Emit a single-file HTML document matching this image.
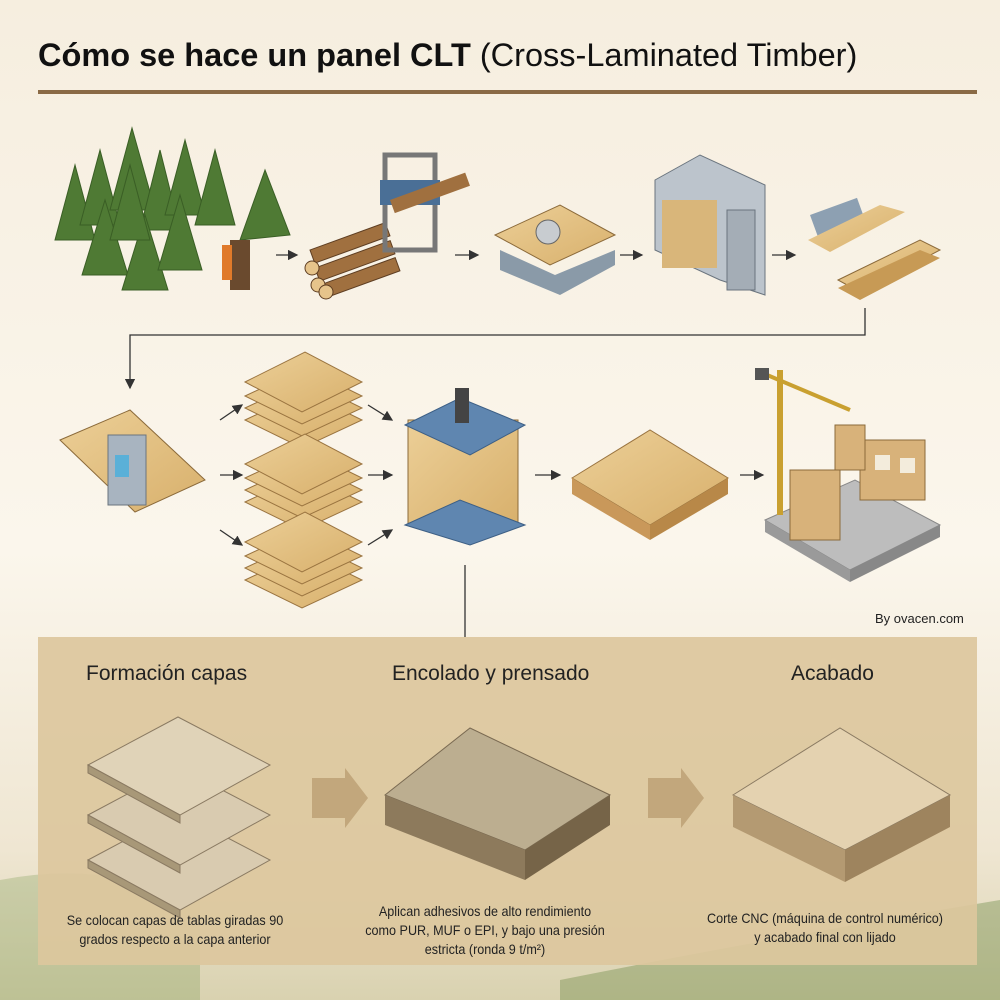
<!DOCTYPE html>
<html><head><meta charset="utf-8"><style>
body{margin:0;width:1000px;height:1000px;overflow:hidden;font-family:"Liberation Sans",sans-serif;}
.bg{position:absolute;left:0;top:0;width:1000px;height:1000px;background:linear-gradient(180deg,#f6eedf 0%,#fbf6ec 55%,#efe6d2 85%,#d9d2b0 100%);}
.t{position:absolute;white-space:nowrap;}
.n{position:absolute;white-space:nowrap;text-align:center;font-size:14px;line-height:19px;color:#222;transform:scaleX(0.9);}
</style></head><body>
<div class="bg"></div>
<svg width="1000" height="1000" style="position:absolute;left:0;top:0">
<defs>
<linearGradient id="wood" x1="0" y1="0" x2="1" y2="1"><stop offset="0" stop-color="#eccf97"/><stop offset="1" stop-color="#d8b06c"/></linearGradient>
<marker id="ah" markerWidth="8" markerHeight="8" refX="7" refY="4" orient="auto"><path d="M0,0 L8,4 L0,8 z" fill="#333"/></marker>
</defs>
<path d="M0,880 Q100,860 200,900 L200,1000 L0,1000z" fill="#7f9a55" opacity="0.3"/>
<path d="M560,980 Q760,940 1000,900 L1000,1000 L560,1000z" fill="#6f8a45" opacity="0.4"/>
<line x1="38" y1="92" x2="977" y2="92" stroke="#8a6a45" stroke-width="4"/>
<g fill="#4f7a34" stroke="#3a5e25" stroke-width="1">
<polygon points="75,165 55,240 95,240"/><polygon points="100,150 80,225 120,225"/><polygon points="132,128 110,210 155,210"/>
<polygon points="160,150 140,230 180,230"/><polygon points="185,140 165,215 205,215"/><polygon points="215,150 195,225 235,225"/>
<polygon points="105,200 82,275 128,275"/><polygon points="145,215 122,290 168,290"/><polygon points="180,195 158,270 202,270"/>
<polygon points="265,170 240,240 290,235"/><polygon points="130,165 110,240 150,240"/>
</g>
<rect x="230" y="240" width="20" height="50" fill="#6a4a2e"/>
<rect x="222" y="245" width="10" height="35" fill="#e07a2a"/>
<g fill="#a0703f" stroke="#5e3e22"><rect x="310" y="250" width="80" height="14" transform="rotate(-20 310 250)"/><rect x="315" y="268" width="80" height="14" transform="rotate(-20 315 268)"/><rect x="320" y="285" width="80" height="14" transform="rotate(-20 320 285)"/>
<circle cx="312" cy="268" r="7" fill="#e6c48b"/><circle cx="318" cy="285" r="7" fill="#e6c48b"/><circle cx="326" cy="292" r="7" fill="#e6c48b"/></g>
<rect x="385" y="155" width="50" height="95" fill="none" stroke="#777" stroke-width="5"/>
<rect x="380" y="180" width="60" height="25" fill="#4a6f96"/>
<rect x="390" y="200" width="80" height="14" fill="#a0703f" transform="rotate(-20 390 200)"/>
<polygon points="495,235 560,205 615,235 550,265" fill="url(#wood)" stroke="#8b6a3a"/>
<polygon points="500,250 555,275 615,250 615,265 560,295 500,270" fill="#8a9aa8"/>
<circle cx="548" cy="232" r="12" fill="#c8ccd0" stroke="#666"/>
<polygon points="655,180 700,155 765,185 765,295 720,280 655,250" fill="#bcc4cc" stroke="#6a747e"/>
<rect x="662" y="200" width="55" height="68" fill="#d9b67a"/>
<rect x="727" y="210" width="28" height="80" fill="#a4adb6" stroke="#6a747e"/>
<rect x="810" y="215" width="50" height="22" fill="#8da0b2" transform="rotate(-20 810 215)"/>
<polygon points="808,240 880,205 905,212 830,252" fill="url(#wood)"/>
<polygon points="838,280 920,240 940,250 860,292" fill="url(#wood)" stroke="#8b6a3a"/>
<polygon points="838,288 920,250 940,258 860,300" fill="#c79a55"/>
<g stroke="#333" stroke-width="1.3" marker-end="url(#ah)" fill="none">
<line x1="276" y1="255" x2="297" y2="255"/><line x1="455" y1="255" x2="478" y2="255"/><line x1="620" y1="255" x2="642" y2="255"/><line x1="772" y1="255" x2="795" y2="255"/>
<polyline points="865,308 865,335 130,335 130,388"/>
<line x1="220" y1="420" x2="242" y2="405"/><line x1="220" y1="475" x2="242" y2="475"/><line x1="220" y1="530" x2="242" y2="545"/>
<line x1="368" y1="405" x2="392" y2="420"/><line x1="368" y1="475" x2="392" y2="475"/><line x1="368" y1="545" x2="392" y2="530"/>
<line x1="535" y1="475" x2="560" y2="475"/><line x1="740" y1="475" x2="763" y2="475"/>
</g>
<line x1="465" y1="565" x2="465" y2="637" stroke="#333" stroke-width="1.3"/>
<polygon points="60,440 130,410 205,480 135,512" fill="url(#wood)" stroke="#8b6a3a"/>
<rect x="108" y="435" width="38" height="70" fill="#a8b4c0" stroke="#6a747e"/>
<rect x="115" y="455" width="14" height="22" fill="#5ab0d8"/>
<g stroke="#9a7440" fill="url(#wood)">
<g id="st"><polygon points="245,420 305,392 362,420 302,448"/><polygon points="245,408 305,380 362,408 302,436"/><polygon points="245,396 305,368 362,396 302,424"/><polygon points="245,382 305,352 362,382 302,412"/></g>
<use href="#st" y="82"/><use href="#st" y="160"/>
</g>
<rect x="408" y="420" width="110" height="105" fill="url(#wood)" stroke="#8b6a3a"/>
<polygon points="405,425 460,398 525,425 470,455" fill="#5f86b0" stroke="#3d5f85"/>
<polygon points="405,525 460,500 525,525 470,545" fill="#5f86b0" stroke="#3d5f85"/>
<rect x="455" y="388" width="14" height="35" fill="#444"/>
<polygon points="572,478 650,430 728,478 650,525" fill="url(#wood)" stroke="#9a7440"/>
<polygon points="572,478 650,525 650,540 572,494" fill="#c9985a"/><polygon points="650,525 728,478 728,494 650,540" fill="#b88848"/>
<polygon points="765,520 855,480 940,525 850,570" fill="#bdbdbd" stroke="#888"/>
<polygon points="765,520 850,570 850,582 765,532" fill="#9a9a9a"/><polygon points="850,570 940,525 940,537 850,582" fill="#888"/>
<rect x="790" y="470" width="50" height="70" fill="#d8b27a" stroke="#8b6a3a"/>
<rect x="860" y="440" width="65" height="60" fill="#d8b27a" stroke="#8b6a3a"/>
<rect x="835" y="425" width="30" height="45" fill="#d8b27a" stroke="#8b6a3a"/>
<rect x="875" y="455" width="15" height="15" fill="#f3ecdc"/><rect x="900" y="458" width="15" height="15" fill="#f3ecdc"/>
<line x1="780" y1="370" x2="780" y2="515" stroke="#c9a030" stroke-width="6"/>
<line x1="760" y1="372" x2="850" y2="410" stroke="#c9a030" stroke-width="4"/>
<rect x="755" y="368" width="14" height="12" fill="#555"/>
<rect x="38" y="637" width="939" height="328" fill="#dcc79d" opacity="0.92"/>
<g stroke="#8a7a62" fill="#d9cbb0">
<polygon points="88,860 178,812 270,860 180,910"/><polygon points="88,860 180,910 180,918 88,868" fill="#a89878"/>
<polygon points="88,815 178,767 270,815 180,865"/><polygon points="88,815 180,865 180,873 88,823" fill="#a89878"/>
<polygon points="88,765 178,717 270,765 180,815" fill="#e0d3b8"/><polygon points="88,765 180,815 180,823 88,773" fill="#a89878"/>
</g>
<polygon points="312,778 345,778 345,768 368,798 345,828 345,818 312,818" fill="#c2a77c"/>
<polygon points="648,778 681,778 681,768 704,798 681,828 681,818 648,818" fill="#c2a77c"/>
<polygon points="385,795 470,728 610,795 525,850" fill="#bcae90" stroke="#7a6a52"/>
<polygon points="385,795 525,850 525,880 385,825" fill="#8d7a5c"/><polygon points="525,850 610,795 610,825 525,880" fill="#766448"/>
<polygon points="733,795 840,728 950,795 845,850" fill="#e4d2b0" stroke="#8a7a62"/>
<polygon points="733,795 845,850 845,882 733,827" fill="#b49a72"/><polygon points="845,850 950,795 950,827 845,882" fill="#9e845e"/>
</svg>
<div class="t" style="left:38px;top:37px;font-size:32.5px;color:#111"><b>Cómo se hace un panel CLT</b> (Cross-Laminated Timber)</div>
<div class="t" style="left:875px;top:611px;font-size:13px;color:#222">By ovacen.com</div>
<div class="t" style="left:86px;top:662px;font-size:21px;color:#222">Formación capas</div>
<div class="t" style="left:392px;top:662px;font-size:21px;color:#222">Encolado y prensado</div>
<div class="t" style="left:791px;top:662px;font-size:21px;color:#222">Acabado</div>
<div class="n" style="left:35px;top:911px;width:280px;">Se colocan capas de tablas giradas 90<br>grados respecto a la capa anterior</div>
<div class="n" style="left:335px;top:902px;width:300px;">Aplican adhesivos de alto rendimiento<br>como PUR, MUF o EPI, y bajo una presión<br>estricta (ronda 9 t/m²)</div>
<div class="n" style="left:670px;top:909px;width:310px;">Corte CNC (máquina de control numérico)<br>y acabado final con lijado</div>
</body></html>
